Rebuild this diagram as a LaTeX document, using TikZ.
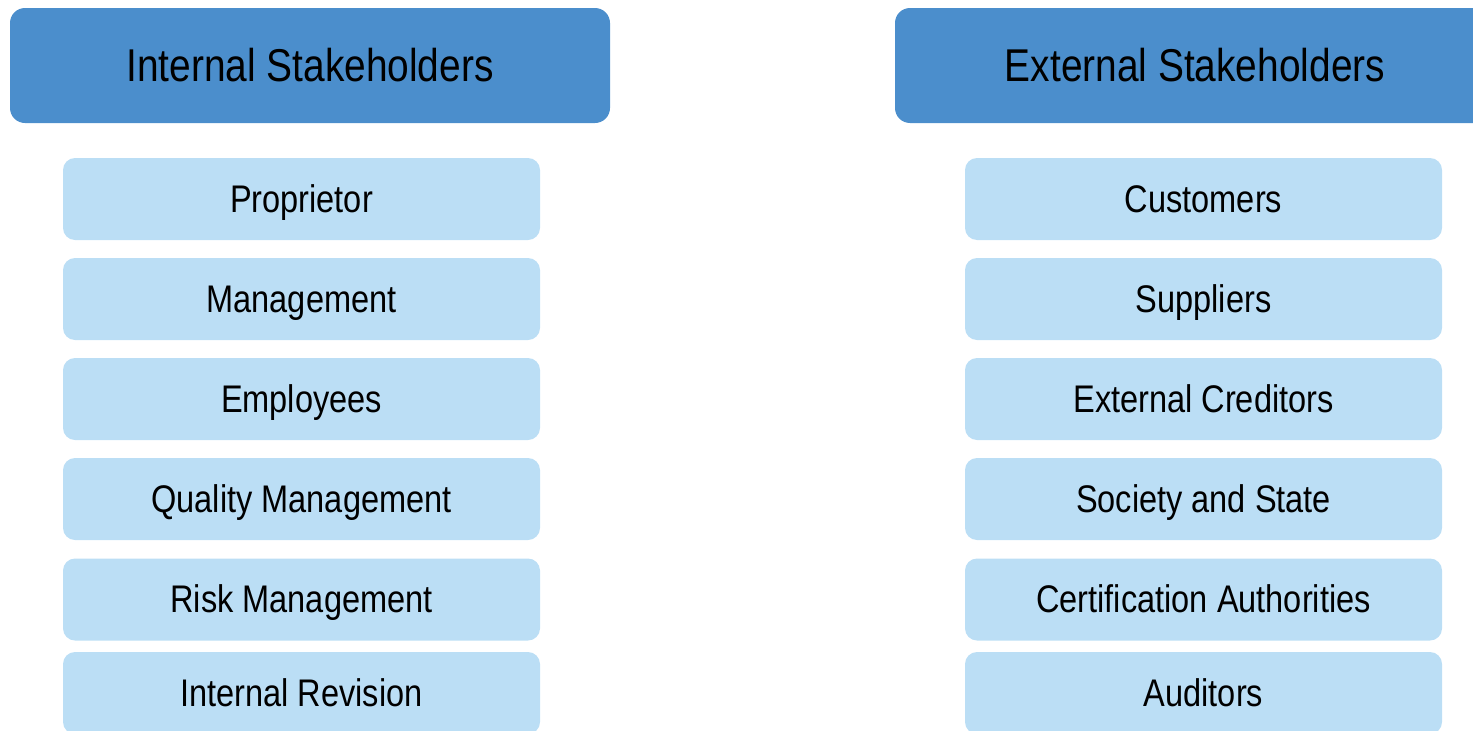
\documentclass[tikz,border=0pt]{standalone}
\usepackage{fontspec}
\setmainfont{Liberation Sans}[FakeStretch=0.845]
\usepackage{tikz}
\usepackage{xcolor}
\tikzset{>=latex}
\usetikzlibrary{positioning}

\definecolor{headblue}{RGB}{75,142,204}
\definecolor{itemblue}{RGB}{187,222,245}
\tikzset{
  headbox/.style={fill=headblue, rounded corners=15pt, inner sep=0pt,
    minimum width=600pt, minimum height=115pt,
    text height=40pt, text depth=9pt, font=\fontsize{46}{50}\selectfont},
  itembox/.style={fill=itemblue, rounded corners=12pt, inner sep=0pt,
    minimum width=477pt, minimum height=82pt,
    text height=34pt, text depth=8pt, font=\fontsize{38.5}{42}\selectfont}
}

\begin{document}
\begin{tikzpicture}[x=1pt, y=-1pt]
        \useasboundingbox (0, 0) rectangle (1473, 731);
        \clip (0, 0) rectangle (1473, 731);
        % headers
        \node[headbox] (inthead) at (310, 65.5) {Internal Stakeholders};
        \node[headbox] (exthead) at (1195, 65.5) {External Stakeholders};
        % internal side
        \node[itembox] (proprietor) at (301.5, 199) {Proprietor};
        \node[itembox] (management) at (301.5, 299) {Management};
        \node[itembox] (employees) at (301.5, 399) {Employees};
        \node[itembox] (quality) at (301.5, 499) {Quality Management};
        \node[itembox] (risk) at (301.5, 599.5) {Risk Management};
        \node[itembox] (revision) at (301.5, 693) {Internal Revision};
        % external side
        \node[itembox] (customers) at (1203.5, 199) {Customers};
        \node[itembox] (suppliers) at (1203.5, 299) {Suppliers};
        \node[itembox] (creditors) at (1203.5, 399) {External Creditors};
        \node[itembox] (society) at (1203.5, 499) {Society and State};
        \node[itembox] (certification) at (1203.5, 599.5) {Certification Authorities};
        \node[itembox] (auditors) at (1203.5, 693) {Auditors};
      \end{tikzpicture}
\end{document}
